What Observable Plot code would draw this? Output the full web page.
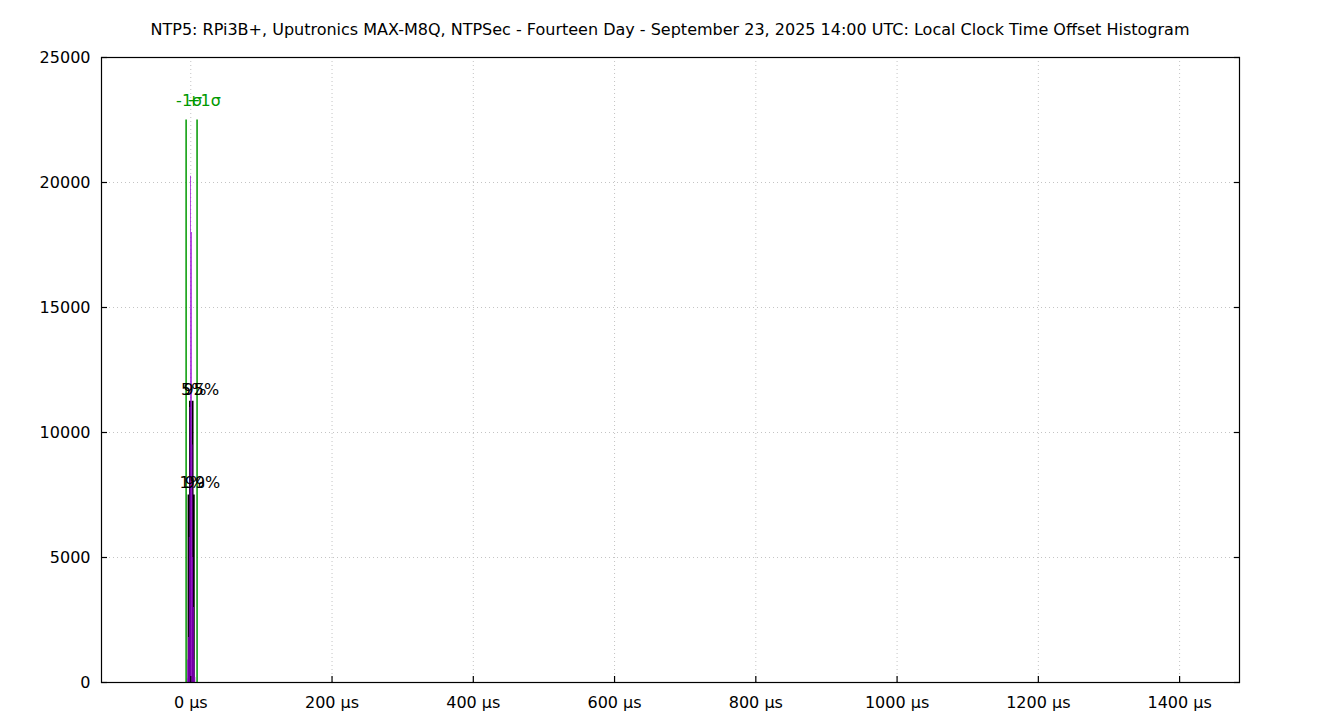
<!DOCTYPE html>
<html><head><meta charset="utf-8">
<script src="https://cdn.jsdelivr.net/npm/d3@7"></script>
<script src="https://cdn.jsdelivr.net/npm/@observablehq/plot@0.6"></script>
<style>
body{margin:0;background:#fff;font-family:"DejaVu Sans",sans-serif;}
#title{width:1340px;height:46px;box-sizing:border-box;padding-top:21px;font-size:16px;line-height:17px;text-align:center;color:#000;}
</style></head><body>
<div id="title">NTP5: RPi3B+, Uputronics MAX-M8Q, NTPSec - Fourteen Day - September 23, 2025 14:00 UTC: Local Clock Time Offset Histogram</div>
<div id="chart"></div>
<script>
// Histogram bins (µs) and counts
const binLow   = [-126, -5, -4, -3, -2, -1, 0, 1, 2, 3, 4, 5, 6, 25, 60, 150, 420, 900, 1484];
const binHigh  = [-125, -4, -3, -2, -1, 0, 1, 2, 3, 4, 5, 6, 7, 26, 61, 151, 421, 901, 1485];
const binCount = [1, 150, 900, 1800, 5800, 11000, 20250, 18000, 9500, 5000, 3000, 900, 200, 2, 1, 1, 1, 1, 1];

// Percentile markers
const pctLabels  = ["1%", "99%", "5%", "95%"];
const pctValues  = [-3.1, 4.2, -1.1, 2.5];
const pctHeights = [7500, 7500, 11250, 11250];
const pctLabelY  = [8000, 8000, 11720, 11720];

// Sigma markers
const sigLabels = ["-1σ", "+1σ"];
const sigValues = [-6.6, 8.9];
const sigHeight = 22500;
const sigLabelY = 23280;

const xDomain = [-126.4, 1484.8];
const yDomain = [0, 25000];
const xTicks = [0, 200, 400, 600, 800, 1000, 1200, 1400];
const yTicks = [0, 5000, 10000, 15000, 20000, 25000];

const bins = binLow.map((lo, i) => ({lo, hi: binHigh[i], n: binCount[i]}));
const pcts = pctLabels.map((l, i) => ({l, v: pctValues[i], h: pctHeights[i], ly: pctLabelY[i]}));
const sigs = sigLabels.map((l, i) => ({l, v: sigValues[i]}));

const green = "#009900";
const purple = "#9400d3";
const font = "DejaVu Sans";
const gridColor = "#c4c4c4";

const chart = Plot.plot({
  width: 1340,
  height: 674,
  marginTop: 11,
  marginBottom: 38,
  marginLeft: 101,
  marginRight: 101,
  style: {fontFamily: font, fontSize: "16px", color: "#000", background: "#fff"},
  x: {domain: xDomain, ticks: xTicks, label: null},
  y: {domain: yDomain, ticks: yTicks, label: null},
  marks: [
    Plot.gridX(xTicks, {stroke: gridColor, strokeOpacity: 1, strokeDasharray: "1,3"}),
    Plot.gridY(yTicks, {stroke: gridColor, strokeOpacity: 1, strokeDasharray: "1,3"}),
    Plot.ruleX(pcts, {x: "v", y1: 0, y2: "h", stroke: "#000", strokeWidth: 2}),
    Plot.rectY(bins, {x1: "lo", x2: "hi", y: "n", fill: purple, inset: 0}),
    Plot.ruleX(sigs, {x: "v", y1: 0, y2: sigHeight, stroke: green, strokeWidth: 1.5}),
    Plot.text(sigs, {x: "v", y: sigLabelY, text: "l", fill: green, textAnchor: "start", dx: -10, fontSize: 16}),
    Plot.text(pcts, {x: "v", y: "ly", text: "l", fill: "#000", textAnchor: "start", dx: -9, fontSize: 16}),
    Plot.axisX(xTicks, {tickSize: -6, tickPadding: 20, tickFormat: d => d + " µs", stroke: "#000", strokeWidth: 1.2, label: null}),
    Plot.axisY(yTicks, {anchor: "left", tickSize: -6, tickPadding: 17, stroke: "#000", strokeWidth: 1.2, tickFormat: d => String(d), label: null}),
    Plot.axisY(yTicks, {anchor: "right", tickSize: -6, tickFormat: () => "", stroke: "#000", strokeWidth: 1.2, label: null}),
    Plot.frame({stroke: "#000", strokeWidth: 1.2})
  ]
});
document.getElementById("chart").appendChild(chart);
</script>
</body></html>
